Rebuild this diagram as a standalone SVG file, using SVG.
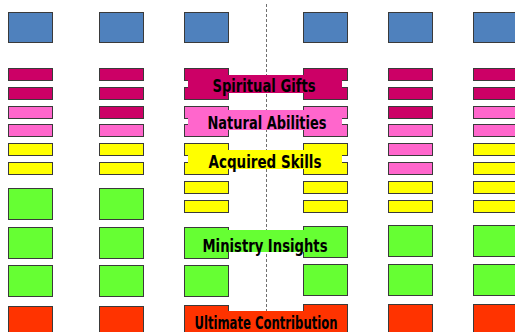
<svg xmlns="http://www.w3.org/2000/svg" width="515" height="332" viewBox="0 0 515 332">
  <style>
    .blk { stroke: #3a3a3a; stroke-width: 1; }
    .blue { fill: #4F81BD; }
    .mag { fill: #CC0066; }
    .pink { fill: #FF66CC; }
    .yel { fill: #FFFF00; }
    .grn { fill: #66FF33; }
    .red { fill: #FF3300; }
    .lbl { font-family: "DejaVu Sans Condensed", "DejaVu Sans", "Liberation Sans", sans-serif; font-stretch: condensed; font-weight: bold; font-size: 17.5px; fill: #000; }
  </style>
  <rect width="515" height="332" fill="#ffffff"/>

  <!-- divider -->
  <g id="connectors">
    <line x1="266.5" y1="4" x2="266.5" y2="332" stroke="#707070" stroke-width="1" stroke-dasharray="3,2"/>
  </g>

  <!-- column 1 -->
  <g id="col1" class="blk">
    <rect class="blue" x="8.5" y="12.5" width="44" height="30"/>
    <rect class="mag" x="8.5" y="68.5" width="44" height="12"/>
    <rect class="mag" x="8.5" y="87.5" width="44" height="12"/>
    <rect class="pink" x="8.5" y="106.5" width="44" height="12"/>
    <rect class="pink" x="8.5" y="124.5" width="44" height="12"/>
    <rect class="yel" x="8.5" y="143.5" width="44" height="12"/>
    <rect class="yel" x="8.5" y="162.5" width="44" height="12"/>
    <rect class="grn" x="8.5" y="188.5" width="44" height="31"/>
    <rect class="grn" x="8.5" y="227.5" width="44" height="31"/>
    <rect class="grn" x="8.5" y="265.5" width="44" height="31"/>
    <rect class="red" x="8.5" y="306.5" width="44" height="31"/>
  </g>

  <!-- column 2 -->
  <g id="col2" class="blk">
    <rect class="blue" x="99.5" y="12.5" width="44" height="30"/>
    <rect class="mag" x="99.5" y="68.5" width="44" height="12"/>
    <rect class="mag" x="99.5" y="87.5" width="44" height="12"/>
    <rect class="mag" x="99.5" y="106.5" width="44" height="12"/>
    <rect class="pink" x="99.5" y="124.5" width="44" height="12"/>
    <rect class="yel" x="99.5" y="143.5" width="44" height="12"/>
    <rect class="yel" x="99.5" y="162.5" width="44" height="12"/>
    <rect class="grn" x="99.5" y="188.5" width="44" height="31"/>
    <rect class="grn" x="99.5" y="227.5" width="44" height="31"/>
    <rect class="grn" x="99.5" y="265.5" width="44" height="31"/>
    <rect class="red" x="99.5" y="306.5" width="44" height="31"/>
  </g>

  <!-- column 3 -->
  <g id="col3" class="blk">
    <rect class="blue" x="184.5" y="12.5" width="44" height="30"/>
    <rect class="mag" x="184.5" y="68.5" width="44" height="12"/>
    <rect class="mag" x="184.5" y="87.5" width="44" height="12"/>
    <rect class="pink" x="184.5" y="106.5" width="44" height="12"/>
    <rect class="pink" x="184.5" y="124.5" width="44" height="12"/>
    <rect class="yel" x="184.5" y="143.5" width="44" height="12"/>
    <rect class="yel" x="184.5" y="162.5" width="44" height="12"/>
    <rect class="yel" x="184.5" y="181.5" width="44" height="12"/>
    <rect class="yel" x="184.5" y="200.5" width="44" height="12"/>
    <rect class="grn" x="184.5" y="227.5" width="44" height="31"/>
    <rect class="grn" x="184.5" y="265.5" width="44" height="31"/>
    <rect class="red" x="184.5" y="305.5" width="44" height="31"/>
  </g>

  <!-- column 4 -->
  <g id="col4" class="blk">
    <rect class="blue" x="303.5" y="12.5" width="44" height="30"/>
    <rect class="mag" x="303.5" y="68.5" width="44" height="12"/>
    <rect class="mag" x="303.5" y="87.5" width="44" height="12"/>
    <rect class="pink" x="303.5" y="106.5" width="44" height="12"/>
    <rect class="pink" x="303.5" y="124.5" width="44" height="12"/>
    <rect class="yel" x="303.5" y="143.5" width="44" height="12"/>
    <rect class="yel" x="303.5" y="162.5" width="44" height="12"/>
    <rect class="yel" x="303.5" y="181.5" width="44" height="12"/>
    <rect class="yel" x="303.5" y="200.5" width="44" height="12"/>
    <rect class="grn" x="303.5" y="226.5" width="44" height="31"/>
    <rect class="grn" x="303.5" y="264.5" width="44" height="31"/>
    <rect class="red" x="303.5" y="304.5" width="44" height="31"/>
  </g>

  <!-- column 5 -->
  <g id="col5" class="blk">
    <rect class="blue" x="388.5" y="12.5" width="44" height="30"/>
    <rect class="mag" x="388.5" y="68.5" width="44" height="12"/>
    <rect class="mag" x="388.5" y="87.5" width="44" height="12"/>
    <rect class="mag" x="388.5" y="106.5" width="44" height="12"/>
    <rect class="pink" x="388.5" y="124.5" width="44" height="12"/>
    <rect class="pink" x="388.5" y="143.5" width="44" height="12"/>
    <rect class="pink" x="388.5" y="162.5" width="44" height="12"/>
    <rect class="yel" x="388.5" y="181.5" width="44" height="12"/>
    <rect class="yel" x="388.5" y="200.5" width="44" height="12"/>
    <rect class="grn" x="388.5" y="225.5" width="44" height="31"/>
    <rect class="grn" x="388.5" y="264.5" width="44" height="31"/>
    <rect class="red" x="388.5" y="304.5" width="44" height="31"/>
  </g>

  <!-- column 6 -->
  <g id="col6" class="blk">
    <rect class="blue" x="473.5" y="12.5" width="44" height="30"/>
    <rect class="mag" x="473.5" y="68.5" width="44" height="12"/>
    <rect class="mag" x="473.5" y="87.5" width="44" height="12"/>
    <rect class="pink" x="473.5" y="106.5" width="44" height="12"/>
    <rect class="pink" x="473.5" y="124.5" width="44" height="12"/>
    <rect class="yel" x="473.5" y="143.5" width="44" height="12"/>
    <rect class="yel" x="473.5" y="162.5" width="44" height="12"/>
    <rect class="yel" x="473.5" y="181.5" width="44" height="12"/>
    <rect class="yel" x="473.5" y="200.5" width="44" height="12"/>
    <rect class="grn" x="473.5" y="225.5" width="44" height="31"/>
    <rect class="grn" x="473.5" y="264.5" width="44" height="31"/>
    <rect class="red" x="473.5" y="304.5" width="44" height="31"/>
  </g>

  <!-- category labels on colour bands -->
  <g id="label-spiritual">
    <rect class="mag" x="188" y="75" width="154" height="18"/>
    <text class="lbl" x="212.5" y="92" textLength="103" lengthAdjust="spacingAndGlyphs">Spiritual Gifts</text>
  </g>
  <g id="label-natural">
    <rect class="pink" x="188" y="110" width="154" height="20"/>
    <text class="lbl" x="207.5" y="129" textLength="119" lengthAdjust="spacingAndGlyphs">Natural Abilities</text>
  </g>
  <g id="label-acquired">
    <rect class="yel" x="188" y="150" width="154" height="19"/>
    <text class="lbl" x="208.5" y="168" textLength="113" lengthAdjust="spacingAndGlyphs">Acquired Skills</text>
  </g>
  <g id="label-ministry">
    <rect class="grn" x="188" y="230" width="154" height="22"/>
    <text class="lbl" x="202.5" y="251.5" textLength="125" lengthAdjust="spacingAndGlyphs">Ministry Insights</text>
  </g>
  <g id="label-ultimate">
    <rect class="red" x="188" y="311" width="154" height="21"/>
    <text class="lbl" x="194.5" y="328.5" textLength="143" lengthAdjust="spacingAndGlyphs">Ultimate Contribution</text>
  </g>
</svg>
